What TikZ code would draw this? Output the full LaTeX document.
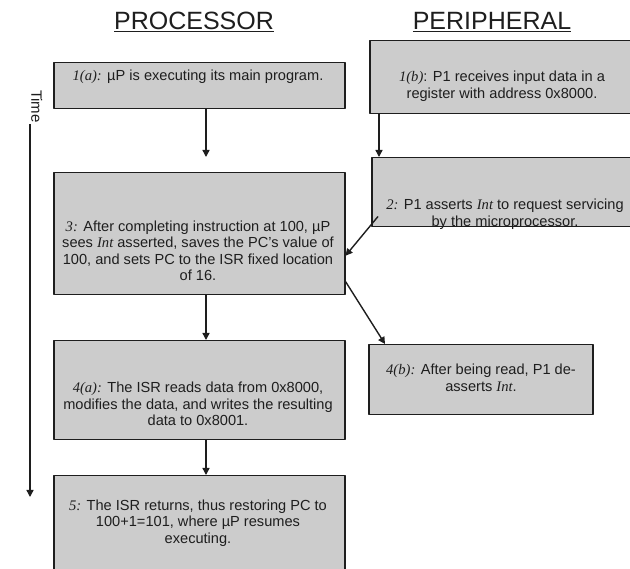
\documentclass[tikz,border=0pt]{standalone}
\usepackage{fontspec}
\setmainfont{Liberation Sans}
\newfontfamily\tms{Liberation Serif}
\usetikzlibrary{arrows.meta}
\definecolor{boxgray}{HTML}{CCCCCC}
\definecolor{ink}{HTML}{1E1E1E}
\newcommand{\lbl}[1]{{\tms\itshape #1}}
\begin{document}
\begin{tikzpicture}[x=1pt,y=-1pt,line join=round,>={Triangle[length=7pt,width=7pt]},font=\fontsize{14.6}{16.5}\selectfont]
	\tikzset{box/.style={draw=ink,fill=boxgray,line width=1.5pt,anchor=north west,inner sep=0pt},
		txt/.style={align=center,inner sep=0pt,text=ink},
		title/.style={font=\fontsize{25}{30}\selectfont,text=ink,inner sep=0pt},
		flow/.style={->,line width=1.4pt,draw=ink}}
	\useasboundingbox (0,0) rectangle (630,569);
	\node[title] (proc) at (194,22) {\underline{PROCESSOR}};
	\node[title] (peri) at (492,22) {\underline{PERIPHERAL}};
	\node[box,minimum width=291pt,minimum height=46pt] (p1) at (53,62) {};
	\node[box,minimum width=262pt,minimum height=73pt] (q1) at (369,40) {};
	\node[box,minimum width=260pt,minimum height=69pt] (q2) at (371,157) {};
	\node[box,minimum width=291pt,minimum height=122pt] (p3) at (53,172) {};
	\node[box,minimum width=291pt,minimum height=99pt] (p4) at (53,340) {};
	\node[box,minimum width=224pt,minimum height=70pt] (q4) at (368,344) {};
	\node[box,minimum width=291pt,minimum height=110pt] (p5) at (53,475) {};
	\node[txt] (t1) at (198,77) {\lbl{1(a):} µP is executing its main program.};
	\node[txt] (u1) at (502,86) {\lbl{1(b)}: P1 receives input data in a\\register with address 0x8000.};
	\node[txt] (u2) at (505,214) {\lbl{2:} P1 asserts \lbl{Int} to request servicing\\by the microprocessor.};
	\node[txt] (t3) at (198,251) {\lbl{3:} After completing instruction at 100, µP\\sees \lbl{Int} asserted, saves the PC's value of\\100, and sets PC to the ISR fixed location\\of 16.};
	\node[txt] (t4) at (198,404) {\lbl{4(a):} The ISR reads data from 0x8000,\\modifies the data, and writes the resulting\\data to 0x8001.};
	\node[txt] (u4) at (481,378) {\lbl{4(b):} After being read, P1 de-\\asserts \lbl{Int}.};
	\node[txt] (t5) at (198,523) {\lbl{5:} The ISR returns, thus restoring PC to\\100+1=101, where µP resumes\\executing.};
	\node[txt,rotate=-90,anchor=south east,inner sep=1pt,font=\fontsize{15}{17}\selectfont] (time) at (30,124) {Time};
	\coordinate (col) at (206,0);
	\coordinate (tend) at (30,497);
	\draw[flow] (p1.south -| col) -- ([yshift=15pt]p3.north -| col);
	\foreach \a/\b in {p3/p4,p4/p5}
	\draw[flow] (\a.south -| col) -- (\b.north -| col);
	\draw[flow] ([xshift=10pt]q1.south west) -- ([xshift=8pt]q2.north west);
	\draw[flow] ([xshift=7pt,yshift=11pt]q2.south west) -- ([yshift=-22pt]p3.east);
	\draw[flow] ([yshift=14pt]p3.south east) -- ([xshift=17pt]q4.north west);
	\draw[flow] (time.south east) -- (time.south east |- tend);
\end{tikzpicture}
\end{document}
